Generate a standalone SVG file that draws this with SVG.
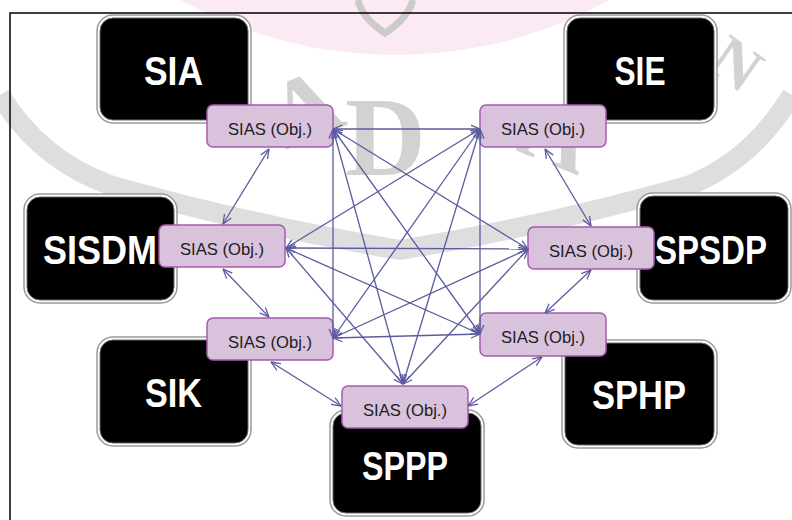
<svg xmlns="http://www.w3.org/2000/svg" width="792" height="520" viewBox="0 0 792 520">
<defs>
<style>
.wm{fill:#d2d2d2;font-family:"Liberation Serif",serif;font-weight:bold}
.frame-o{fill:#fff;stroke:#9a9a9a;stroke-width:1.5}
.blk{fill:#000;stroke:#6a6a6a;stroke-width:1}
.big{fill:#fff;font-family:"Liberation Sans",Arial,sans-serif;font-weight:bold;font-size:40px;text-anchor:middle}
.sias{fill:#d8c2dc;stroke:#a659ad;stroke-width:1.5}
.st{fill:#1c1c1c;font-family:"Liberation Sans",Arial,sans-serif;font-size:17px;text-anchor:middle}
.cn line{stroke:#5a5c9e;stroke-width:1.3;marker-start:url(#ah);marker-end:url(#ah)}
</style>
<marker id="ah" viewBox="0 0 10 10" refX="9.5" refY="5" markerWidth="10" markerHeight="10" markerUnits="userSpaceOnUse" orient="auto-start-reverse">
<path d="M0,1 L9.5,5 L0,9" fill="none" stroke="#5a5c9e" stroke-width="1.3"/>
</marker>
</defs>
<rect width="792" height="520" fill="#fff"/>
<g id="watermark">
<circle cx="395" cy="-390" r="445" fill="#fbe9f3"/>
<path d="M358,0 Q362,18 385,33 Q408,18 413,0" fill="none" stroke="#cbcbcb" stroke-width="7"/>
<path d="M0,95 Q40,160 110,185 Q250,225 400,250 Q550,225 690,185 Q752,160 792,95" fill="none" stroke="#dedede" stroke-width="20"/>
<text class="wm" x="345" y="175" font-size="112">D</text>
<text class="wm" x="285" y="150" font-size="95" transform="rotate(-22 285 150)">A</text>
<text class="wm" x="515" y="150" font-size="95" transform="rotate(22 515 150)">A</text>
<text class="wm" x="705" y="68" font-size="64" transform="rotate(35 705 68)">N</text>
</g>
<rect x="10" y="13" width="800" height="530" fill="none" stroke="#000" stroke-width="1.5"/>
<g id="SIA">
<rect class="frame-o" x="97" y="15" width="154" height="108" rx="16"/>
<rect class="blk" x="100" y="18" width="148" height="102" rx="13"/>
<text class="big" x="173.5" y="85" textLength="59" lengthAdjust="spacingAndGlyphs">SIA</text>
<rect class="sias" x="207" y="105" width="126" height="42" rx="6"/>
<text class="st" x="270" y="135" textLength="84" lengthAdjust="spacingAndGlyphs">SIAS (Obj.)</text>
</g>
<g id="SIE">
<rect class="frame-o" x="564" y="15" width="153" height="108" rx="16"/>
<rect class="blk" x="567" y="18" width="147" height="102" rx="13"/>
<text class="big" x="640" y="85" textLength="51" lengthAdjust="spacingAndGlyphs">SIE</text>
<rect class="sias" x="480" y="105" width="126" height="42" rx="6"/>
<text class="st" x="543" y="135" textLength="84" lengthAdjust="spacingAndGlyphs">SIAS (Obj.)</text>
</g>
<g id="SISDM">
<rect class="frame-o" x="24" y="194" width="153" height="109" rx="16"/>
<rect class="blk" x="27" y="197" width="147" height="103" rx="13"/>
<text class="big" x="100" y="264" textLength="114" lengthAdjust="spacingAndGlyphs">SISDM</text>
<rect class="sias" x="159" y="225" width="126" height="42" rx="6"/>
<text class="st" x="222" y="255" textLength="84" lengthAdjust="spacingAndGlyphs">SIAS (Obj.)</text>
</g>
<g id="SPSDP">
<rect class="frame-o" x="637" y="193" width="154" height="110" rx="16"/>
<rect class="blk" x="640" y="196" width="148" height="104" rx="13"/>
<text class="big" x="711" y="264" textLength="112" lengthAdjust="spacingAndGlyphs">SPSDP</text>
<rect class="sias" x="528" y="227" width="126" height="42" rx="6"/>
<text class="st" x="591" y="257" textLength="84" lengthAdjust="spacingAndGlyphs">SIAS (Obj.)</text>
</g>
<g id="SIK">
<rect class="frame-o" x="97" y="337" width="154" height="109" rx="16"/>
<rect class="blk" x="100" y="340" width="148" height="103" rx="13"/>
<text class="big" x="173.5" y="407" textLength="57" lengthAdjust="spacingAndGlyphs">SIK</text>
<rect class="sias" x="207" y="318" width="126" height="42" rx="6"/>
<text class="st" x="270" y="348" textLength="84" lengthAdjust="spacingAndGlyphs">SIAS (Obj.)</text>
</g>
<g id="SPHP">
<rect class="frame-o" x="562" y="340" width="155" height="108" rx="16"/>
<rect class="blk" x="565" y="343" width="149" height="102" rx="13"/>
<text class="big" x="639" y="409" textLength="94" lengthAdjust="spacingAndGlyphs">SPHP</text>
<rect class="sias" x="480" y="313" width="126" height="43" rx="6"/>
<text class="st" x="543" y="343" textLength="84" lengthAdjust="spacingAndGlyphs">SIAS (Obj.)</text>
</g>
<g id="SPPP">
<rect class="frame-o" x="330" y="410" width="154" height="106" rx="16"/>
<rect class="blk" x="333" y="413" width="148" height="100" rx="13"/>
<text class="big" x="405" y="480" textLength="86" lengthAdjust="spacingAndGlyphs">SPPP</text>
<rect class="sias" x="342" y="386" width="126" height="42" rx="6"/>
<text class="st" x="405" y="416" textLength="84" lengthAdjust="spacingAndGlyphs">SIAS (Obj.)</text>
</g>
<g id="connectors" class="cn">
<line x1="269" y1="149" x2="223" y2="224"/>
<line x1="223" y1="269" x2="269" y2="317"/>
<line x1="271" y1="362" x2="341" y2="406"/>
<line x1="545" y1="149" x2="591" y2="226"/>
<line x1="591" y1="270" x2="545" y2="313"/>
<line x1="542" y1="357" x2="468" y2="406"/>
<line x1="333" y1="129" x2="480" y2="129"/>
<line x1="333" y1="129" x2="528" y2="249"/>
<line x1="333" y1="129" x2="333" y2="338"/>
<line x1="333" y1="129" x2="480" y2="334"/>
<line x1="333" y1="129" x2="403" y2="384"/>
<line x1="480" y1="129" x2="286" y2="248"/>
<line x1="480" y1="129" x2="333" y2="338"/>
<line x1="480" y1="129" x2="480" y2="334"/>
<line x1="480" y1="129" x2="403" y2="384"/>
<line x1="286" y1="248" x2="528" y2="249"/>
<line x1="286" y1="248" x2="480" y2="334"/>
<line x1="286" y1="248" x2="403" y2="384"/>
<line x1="528" y1="249" x2="333" y2="338"/>
<line x1="528" y1="249" x2="403" y2="384"/>
<line x1="333" y1="338" x2="480" y2="334"/>
</g>
</svg>
